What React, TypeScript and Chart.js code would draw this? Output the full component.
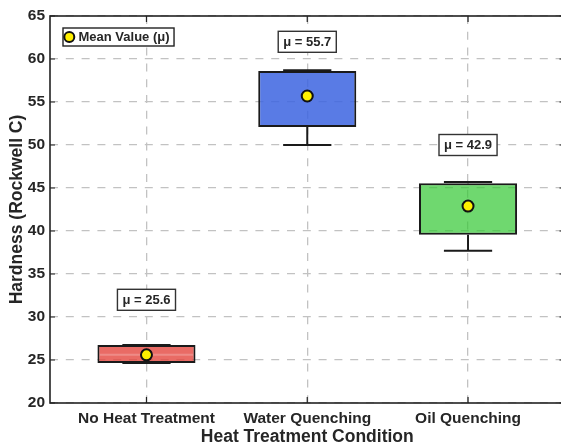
import React, { useEffect, useRef } from "react";
import { Chart, registerables } from "chart.js";

Chart.register(...registerables);

const categories = ["No Heat Treatment", "Water Quenching", "Oil Quenching"];
const q1 = [24.65, 52.1, 39.55];
const q3 = [26.75, 58.6, 45.55];
const medians = [25.6, 58.6, 45.55];
const mins = [24.65, 50.0, 37.7];
const maxs = [26.75, 58.7, 45.7];
const means = [25.6, 55.7, 42.9];
const labelY = [32, 62, 50];
const boxColors = ["rgba(228,70,62,0.8)", "rgba(60,100,225,0.85)", "rgba(50,200,50,0.7)"];

const FONT = "'Liberation Sans', Arial, Helvetica, sans-serif";
const TEXT = "#262626";

const CAP = 0.15;
const HALF = 0.29;

function buildWhiskers() {
  const pts: any[] = [];
  for (let i = 0; i < categories.length; i++) {
    const c = i + 1;
    pts.push({ x: c, y: q3[i] }, { x: c, y: maxs[i] }, { x: c, y: null });
    pts.push({ x: c - CAP, y: maxs[i] }, { x: c + CAP, y: maxs[i] }, { x: c, y: null });
    pts.push({ x: c, y: q1[i] }, { x: c, y: mins[i] }, { x: c, y: null });
    pts.push({ x: c - CAP, y: mins[i] }, { x: c + CAP, y: mins[i] }, { x: c, y: null });
  }
  return pts;
}

function buildMedians() {
  const pts: any[] = [];
  for (let i = 0; i < categories.length; i++) {
    const c = i + 1;
    if (medians[i] > q1[i] && medians[i] < q3[i]) {
      pts.push({ x: c - HALF, y: medians[i] }, { x: c + HALF, y: medians[i] }, { x: c, y: null });
    }
  }
  return pts;
}

const overlayPlugin = {
  id: "overlay",
  afterDraw(chart: any) {
    const { ctx, chartArea: a } = chart;
    const xs = chart.scales.x;
    const ys = chart.scales.y;
    ctx.save();
    // inward ticks
    ctx.strokeStyle = "#222";
    ctx.lineWidth = 1.2;
    ctx.beginPath();
    ys.ticks.forEach((t: any) => {
      const y = ys.getPixelForValue(t.value);
      ctx.moveTo(a.left, y);
      ctx.lineTo(a.left + 5, y);
      ctx.moveTo(a.right, y);
      ctx.lineTo(a.right - 5, y);
    });
    xs.ticks.forEach((t: any) => {
      const x = xs.getPixelForValue(t.value);
      ctx.moveTo(x, a.bottom);
      ctx.lineTo(x, a.bottom - 6);
      ctx.moveTo(x, a.top);
      ctx.lineTo(x, a.top + 6);
    });
    ctx.stroke();
    // border
    ctx.lineWidth = 1.6;
    ctx.strokeStyle = "#222";
    ctx.strokeRect(a.left, a.top, a.right - a.left, a.bottom - a.top);

    // annotations
    ctx.font = `bold 13px ${FONT}`;
    ctx.textAlign = "center";
    ctx.textBaseline = "middle";
    for (let i = 0; i < categories.length; i++) {
      const x = xs.getPixelForValue(i + 1);
      const y = ys.getPixelForValue(labelY[i]);
      const txt = `μ = ${means[i].toFixed(1)}`;
      const w = ctx.measureText(txt).width + 10;
      const h = 21;
      ctx.fillStyle = "#fff";
      ctx.fillRect(x - w / 2, y - h / 2, w, h);
      ctx.lineWidth = 1.4;
      ctx.strokeStyle = "#333";
      ctx.strokeRect(x - w / 2, y - h / 2, w, h);
      ctx.fillStyle = TEXT;
      ctx.fillText(txt, x, y + 0.5);
    }

    // legend
    const lx = a.left + 13;
    const ly = a.top + 12;
    const label = "Mean Value (μ)";
    ctx.font = `bold 13px ${FONT}`;
    const tw = ctx.measureText(label).width;
    const lw = 16 + tw + 4;
    const lh = 18;
    ctx.fillStyle = "#fff";
    ctx.fillRect(lx, ly, lw, lh);
    ctx.lineWidth = 1.4;
    ctx.strokeStyle = "#222";
    ctx.strokeRect(lx, ly, lw, lh);
    ctx.beginPath();
    ctx.arc(lx + 6.3, ly + lh / 2, 5, 0, Math.PI * 2);
    ctx.fillStyle = "#FFF000";
    ctx.fill();
    ctx.lineWidth = 2;
    ctx.strokeStyle = "#111";
    ctx.stroke();
    ctx.fillStyle = TEXT;
    ctx.textAlign = "left";
    ctx.textBaseline = "middle";
    ctx.fillText(label, lx + 15.5, ly + lh / 2 + 0.5);
    ctx.restore();
  },
};

export default function App() {
  const ref = useRef<HTMLCanvasElement>(null);
  useEffect(() => {
    if (!ref.current) return;
    const grid = {
      color: "#c2c2c2",
      lineWidth: 1.3,
      drawTicks: false,
      offset: false,
    };
    const border = { display: false, dash: [8, 7.8] };
    const chart = new Chart(ref.current, {
      type: "bar",
      data: {
        datasets: [
          {
            type: "line",
            label: "Mean Value (μ)",
            data: means.map((m, i) => ({ x: i + 1, y: m })),
            showLine: false,
            pointRadius: 5.5,
            pointBackgroundColor: "#FFF000",
            pointBorderColor: "#111",
            pointBorderWidth: 2,
            order: 0,
          } as any,
          {
            type: "line",
            label: "whiskers",
            data: buildWhiskers(),
            borderColor: "#1a1a1a",
            borderWidth: 2,
            pointRadius: 0,
            spanGaps: false,
            order: 1,
          } as any,
          {
            type: "line",
            label: "medians",
            data: buildMedians(),
            borderColor: "rgba(255,255,255,0.22)",
            borderWidth: 2,
            pointRadius: 0,
            spanGaps: false,
            order: 2,
          } as any,
          {
            type: "bar",
            label: "IQR",
            data: categories.map((_, i) => ({ x: i + 1, y: [q1[i], q3[i]] })),
            backgroundColor: boxColors,
            borderColor: "#1a1a1a",
            borderWidth: 2,
            borderSkipped: false,
            categoryPercentage: 1,
            barPercentage: 0.61,
            order: 3,
          } as any,
        ],
      },
      options: {
        responsive: false,
        animation: false,
        layout: { padding: { left: 0, top: 16, right: 2, bottom: 0 } },
        plugins: { legend: { display: false }, tooltip: { enabled: false } },
        scales: {
          x: {
            type: "linear",
            min: 0.4,
            max: 3.6,
            offset: false,
            afterBuildTicks: (scale: any) => {
              scale.ticks = categories.map((_, i) => ({ value: i + 1 }));
            },
            afterFit: (scale: any) => {
              scale.height = 42;
            },
            ticks: {
              callback: (v: any) => categories[Math.round(v) - 1] ?? "",
              font: { family: FONT, size: 15.5, weight: "bold" },
              color: TEXT,
              padding: 6.5,
              maxRotation: 0,
              autoSkip: false,
            },
            grid: { ...grid },
            border,
            title: {
              display: true,
              text: "Heat Treatment Condition",
              font: { family: FONT, size: 17.5, weight: "bold" },
              color: TEXT,
              padding: { top: 0, bottom: -3 },
            },
          } as any,
          y: {
            type: "linear",
            min: 20,
            max: 65,
            afterFit: (scale: any) => {
              scale.width = 50;
            },
            ticks: {
              stepSize: 5,
              font: { family: FONT, size: 15.5, weight: "bold" },
              color: TEXT,
              padding: 5,
            },
            grid: { ...grid },
            border,
            title: {
              display: true,
              text: "Hardness (Rockwell C)",
              font: { family: FONT, size: 17.5, weight: "bold" },
              color: TEXT,
              padding: { top: 6.5, bottom: 0 },
            },
          } as any,
        },
      },
      plugins: [overlayPlugin],
    });
    return () => chart.destroy();
  }, []);

  return (
    <div
      style={{
        position: "fixed",
        left: 0,
        top: 0,
        width: 561,
        height: 445,
        overflow: "hidden",
        background: "#fff",
      }}
    >
      <canvas ref={ref} width={572} height={445} style={{ display: "block", width: 572, height: 445 }} />
    </div>
  );
}
